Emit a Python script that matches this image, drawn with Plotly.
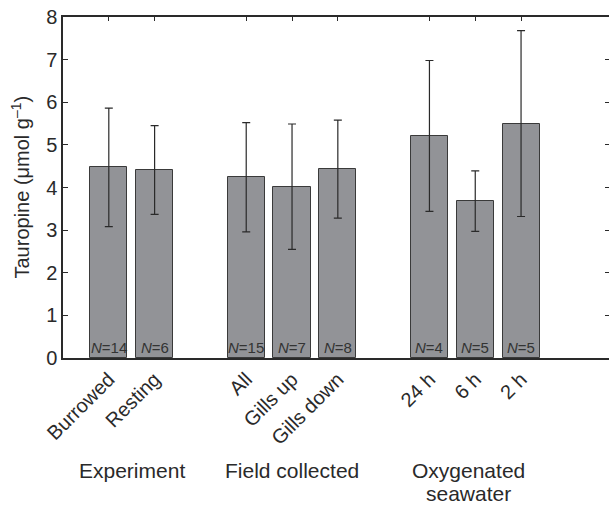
import plotly.graph_objects as go

# Taurine-derived opine (tauropine) levels by treatment
categories = ["Burrowed", "Resting", "All", "Gills up", "Gills down", "24 h", "6 h", "2 h"]
positions = [1, 2, 4, 5, 6, 8, 9, 10]
means = [4.47, 4.41, 4.24, 4.02, 4.43, 5.21, 3.68, 5.50]
errors = [1.39, 1.04, 1.28, 1.47, 1.15, 1.77, 0.71, 2.18]
sample_sizes = [14, 6, 15, 7, 8, 4, 5, 5]
groups = ["Experiment", "Field collected", "Oxygenated<br>seawater"]
group_centers = [1.5, 5.0, 8.85]

FONT = "Liberation Sans, Arial, Helvetica, sans-serif"
INK = "#2a2a2a"

fig = go.Figure()

fig.add_trace(go.Bar(
    x=positions,
    y=means,
    width=0.81,
    marker=dict(color="#929397", line=dict(color="#3a3a3a", width=1)),
    error_y=dict(type="data", array=errors, visible=True,
                 color=INK, thickness=1.2, width=4),
    hoverinfo="skip",
    showlegend=False,
))

# invisible companion trace so the top and right frame axes get drawn
fig.add_trace(go.Scatter(
    x=positions, y=means, mode="markers",
    marker=dict(opacity=0), xaxis="x2", yaxis="y2",
    hoverinfo="skip", showlegend=False,
))

# sample sizes at the foot of each bar
for p, n in zip(positions, sample_sizes):
    fig.add_annotation(
        x=p, y=0, xref="x", yref="y",
        text=f"<i>N</i>={n}", showarrow=False,
        yanchor="bottom", yshift=0,
        font=dict(family=FONT, size=15, color="#333333"),
    )

# group captions under the category labels, one line at a time
LINE_STEP = 23
for g, c in zip(groups, group_centers):
    for i, line in enumerate(g.split("<br>")):
        fig.add_annotation(
            x=c, y=-0.29, xref="x", yref="paper",
            text=line, showarrow=False, yanchor="top",
            yshift=-i * LINE_STEP,
            font=dict(family=FONT, size=21, color=INK),
        )

# y-axis caption
fig.add_annotation(
    x=0, y=0.5, xref="paper", yref="paper",
    xshift=-43, xanchor="center", yanchor="middle",
    text="Tauropine (μmol g<sup>–1</sup>)", textangle=-90,
    showarrow=False, font=dict(family=FONT, size=20, color=INK),
)

x_range = [0, 11.92]

fig.update_layout(
    width=609, height=505,
    margin=dict(l=63, r=0, t=17, b=147),
    plot_bgcolor="white", paper_bgcolor="white",
    font=dict(family=FONT, color=INK),
    bargap=0,
    xaxis=dict(
        range=x_range, tickmode="array",
        tickvals=positions, ticktext=categories,
        tickangle=-45, ticks="", showline=True,
        linecolor=INK, linewidth=1.5, showgrid=False, zeroline=False,
        tickfont=dict(family=FONT, size=20, color=INK),
    ),
    xaxis2=dict(
        range=x_range, overlaying="x", side="top",
        tickmode="array", tickvals=positions,
        ticks="inside", ticklen=4, tickcolor=INK, tickwidth=1,
        showticklabels=False, showline=True, linecolor=INK, linewidth=1.5,
        showgrid=False, zeroline=False,
    ),
    yaxis=dict(
        range=[0, 8], dtick=1, ticks="inside", ticklen=5,
        tickcolor=INK, tickwidth=1,
        showline=True, linecolor=INK, linewidth=1.5,
        showgrid=False, zeroline=False,
        tickfont=dict(family=FONT, size=20, color=INK),
    ),
    yaxis2=dict(
        range=[0, 8], dtick=1, overlaying="y", side="right",
        ticks="inside", ticklen=4, tickcolor=INK, tickwidth=1,
        showticklabels=False, showline=False,
        showgrid=False, zeroline=False,
    ),
)

fig.write_html("out.html")
